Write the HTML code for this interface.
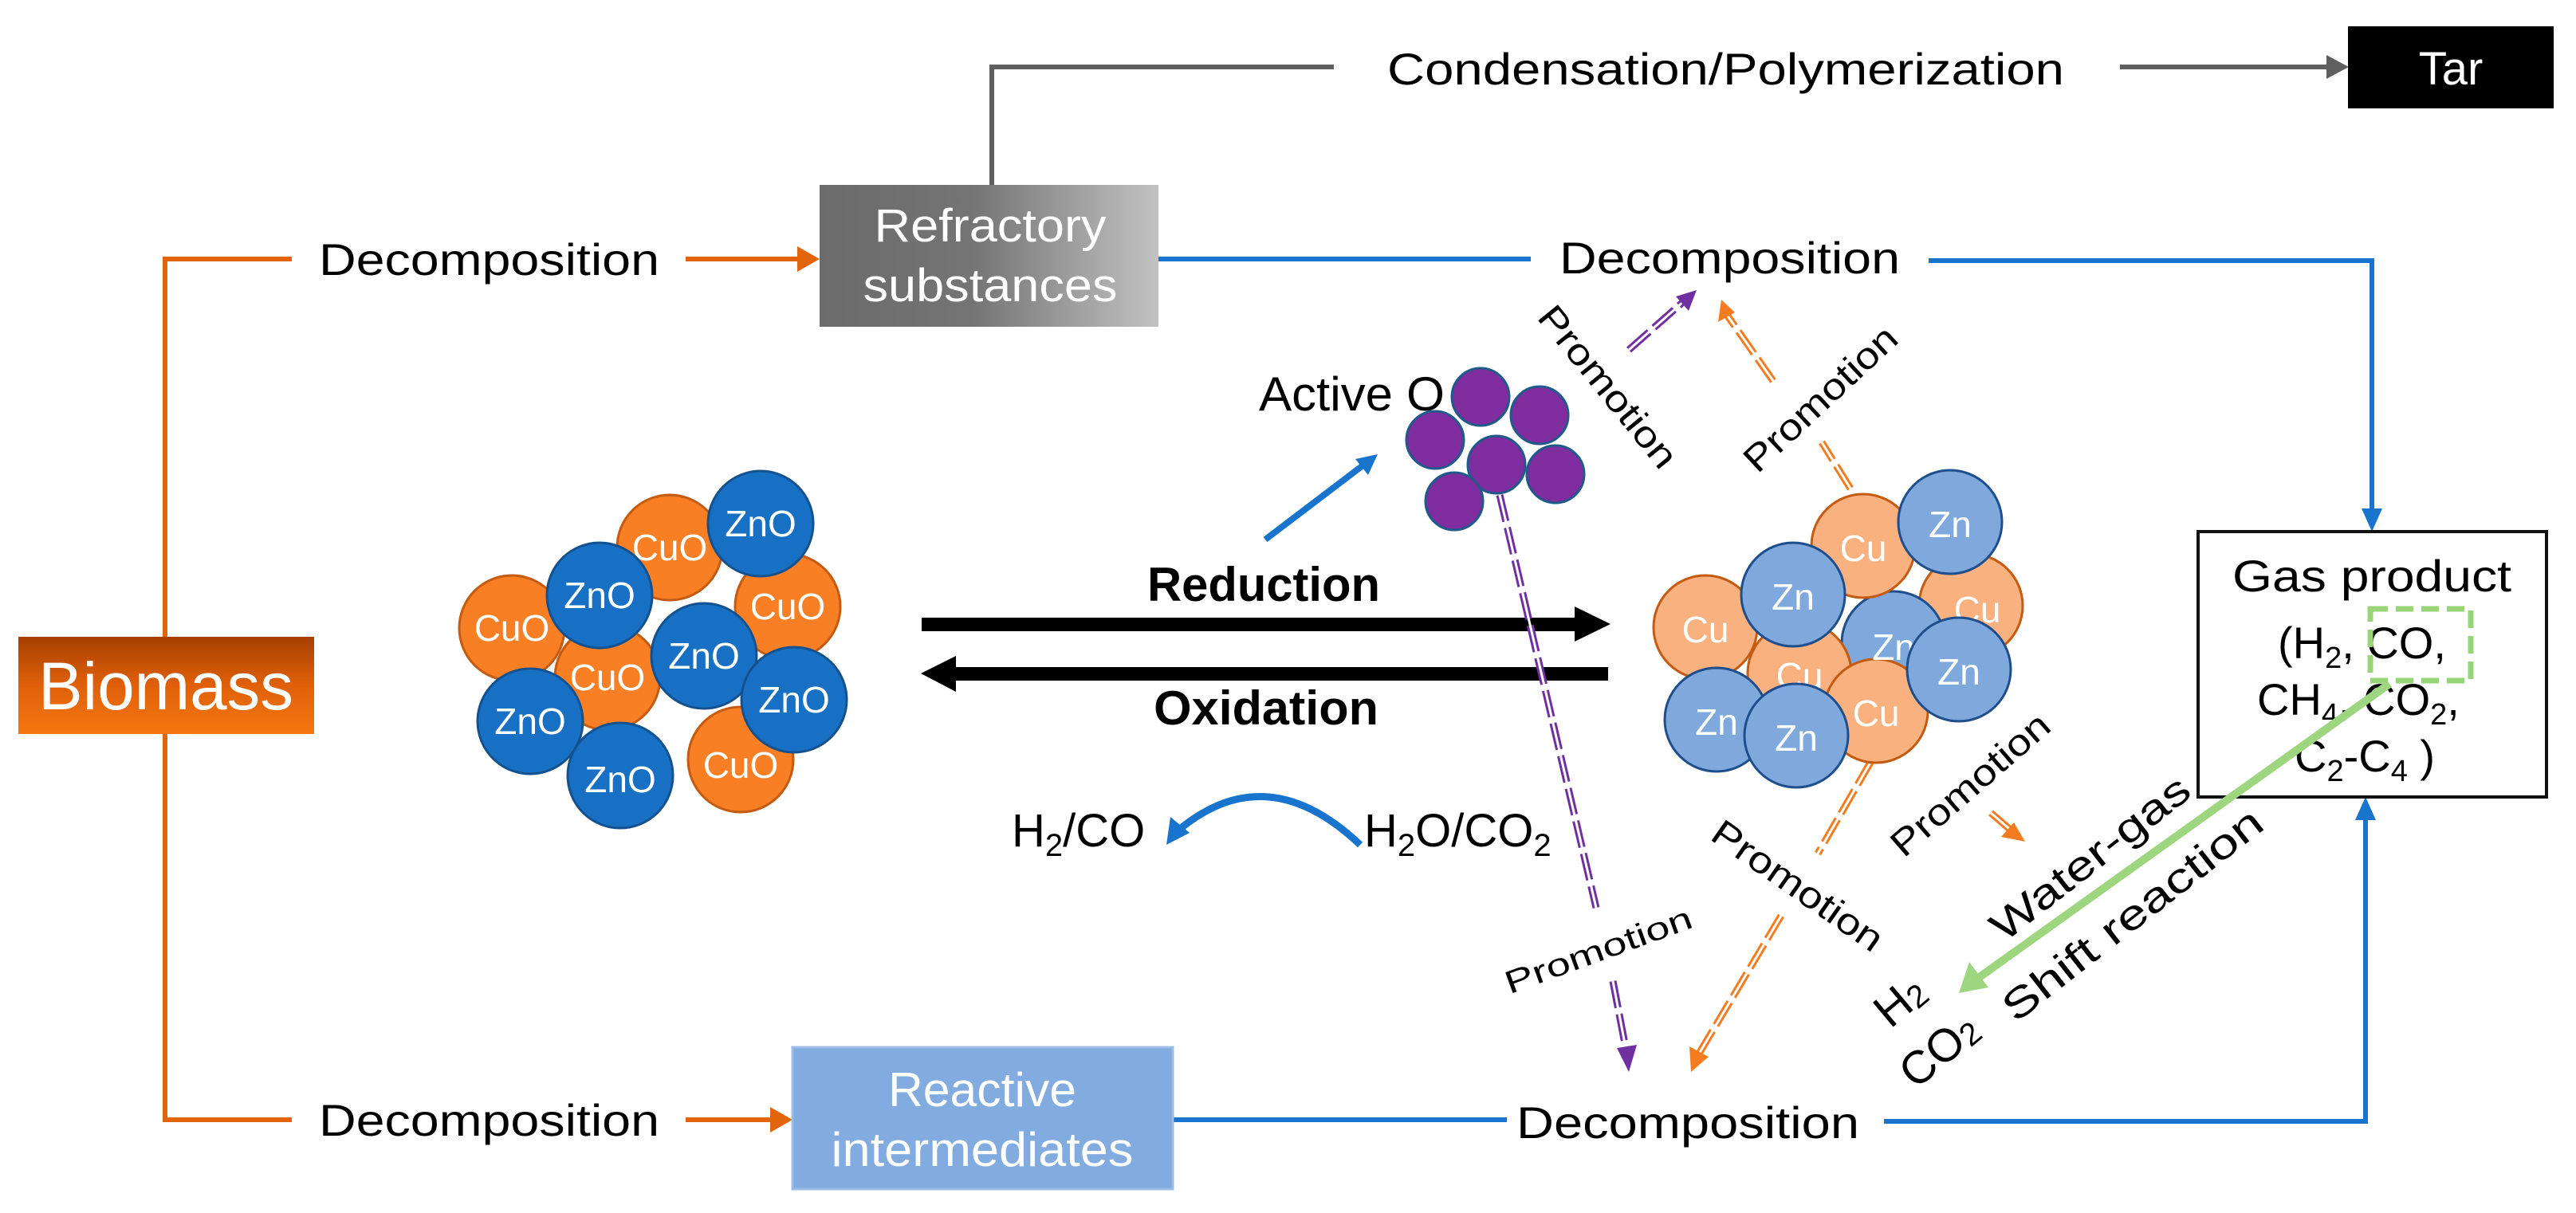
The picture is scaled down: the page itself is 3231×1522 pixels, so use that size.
<!DOCTYPE html>
<html><head><meta charset="utf-8"><style>
html,body{margin:0;padding:0;background:#fff}
svg{display:block}
text{font-family:"Liberation Sans",sans-serif}
</style></head><body>
<svg width="3231" height="1522" viewBox="0 0 3231 1522" xmlns="http://www.w3.org/2000/svg">
<defs>
<linearGradient id="gBio" x1="0" y1="0" x2="0" y2="1"><stop offset="0" stop-color="#a63f00"/><stop offset="0.5" stop-color="#e0600a"/><stop offset="1" stop-color="#f5770f"/></linearGradient>
<linearGradient id="gRef" x1="0" y1="0" x2="1" y2="0"><stop offset="0" stop-color="#6b6b6b"/><stop offset="0.45" stop-color="#747474"/><stop offset="1" stop-color="#c2c2c2"/></linearGradient>
</defs>

<g stroke="#e2640c" stroke-width="6" fill="none">
<path d="M366 325 H207 V1405 H366"/>
<line x1="860" y1="325" x2="1005" y2="325"/>
<line x1="860" y1="1405" x2="970" y2="1405"/>
</g>
<polygon points="1028,325 1000,309 1000,341" fill="#e2640c"/>
<polygon points="994,1405 966,1389 966,1421" fill="#e2640c"/>

<rect x="23" y="799" width="371" height="122" fill="url(#gBio)"/>
<text x="208" y="890" font-size="84" fill="#fff" text-anchor="middle" textLength="320" lengthAdjust="spacingAndGlyphs">Biomass</text>

<g font-size="56" fill="#000">
<text x="400" y="345" textLength="427" lengthAdjust="spacingAndGlyphs">Decomposition</text>
<text x="400" y="1425" textLength="427" lengthAdjust="spacingAndGlyphs">Decomposition</text>
<text x="1956" y="343" textLength="427" lengthAdjust="spacingAndGlyphs">Decomposition</text>
<text x="1902" y="1428" textLength="430" lengthAdjust="spacingAndGlyphs">Decomposition</text>
<text x="1740" y="106" textLength="849" lengthAdjust="spacingAndGlyphs">Condensation/Polymerization</text>
</g>

<path d="M1244 232 V84 H1673" stroke="#5f5f5f" stroke-width="6" fill="none"/>
<rect x="1028" y="232" width="425" height="178" fill="url(#gRef)"/>
<text x="1242" y="303" font-size="58" fill="#fff" text-anchor="middle" textLength="291" lengthAdjust="spacingAndGlyphs">Refractory</text>
<text x="1242" y="378" font-size="58" fill="#fff" text-anchor="middle" textLength="319" lengthAdjust="spacingAndGlyphs">substances</text>

<line x1="2659" y1="84" x2="2920" y2="84" stroke="#5f5f5f" stroke-width="6"/>
<polygon points="2946,84 2918,69 2918,99" fill="#5f5f5f"/>
<rect x="2945" y="33" width="258" height="103" fill="#000"/>
<text x="3074" y="106" font-size="58" fill="#fff" text-anchor="middle">Tar</text>

<g stroke="#1874cd" stroke-width="6" fill="none">
<line x1="1453" y1="325" x2="1920" y2="325"/>
<path d="M2419 327 H2975 V640"/>
<path d="M1471 1405 H1890"/>
<path d="M2363 1407 H2967 V1028"/>
</g>
<polygon points="2975,667 2962,638 2988,638" fill="#1874cd"/>
<polygon points="2967,1000 2954,1029 2980,1029" fill="#1874cd"/>

<rect x="994" y="1314" width="477" height="178" fill="#82abdf" stroke="#9dbde6" stroke-width="3"/>
<text x="1232" y="1388" font-size="60" fill="#fff" text-anchor="middle" textLength="236" lengthAdjust="spacingAndGlyphs">Reactive</text>
<text x="1232" y="1463" font-size="60" fill="#fff" text-anchor="middle" textLength="379" lengthAdjust="spacingAndGlyphs">intermediates</text>

<rect x="2757" y="667" width="437" height="333" fill="#fff" stroke="#111" stroke-width="4"/>
<g font-size="56" fill="#000">
<text x="2800" y="742" textLength="350" lengthAdjust="spacingAndGlyphs">Gas product</text>
<text x="2857" y="826">(H<tspan font-size="38" dy="12">2</tspan><tspan dy="-12">, CO,</tspan></text>
<text x="2831" y="897">CH<tspan font-size="38" dy="12">4</tspan><tspan dy="-12">, CO</tspan><tspan font-size="38" dy="12">2</tspan><tspan dy="-12">,</tspan></text>
<text x="2878" y="968">C<tspan font-size="38" dy="12">2</tspan><tspan dy="-12">-C</tspan><tspan font-size="38" dy="12">4</tspan><tspan dy="-12"> )</tspan></text>
</g>
<rect x="2973" y="764" width="126" height="90" fill="none" stroke="#98d47a" stroke-width="7" stroke-dasharray="22 10"/>

<line x1="2997" y1="858" x2="2480" y2="1228" stroke="#9dd67f" stroke-width="10"/>
<polygon points="2457,1246 2470,1207 2494,1239" fill="#9dd67f"/>
<g font-size="52" fill="#000" text-anchor="middle" dominant-baseline="central">
<text transform="translate(2622,1077) rotate(-38)" textLength="302" lengthAdjust="spacingAndGlyphs">Water-gas</text>
<text transform="translate(2675,1148) rotate(-38)" textLength="399" lengthAdjust="spacingAndGlyphs">Shift reaction</text>
<text transform="translate(2383,1256) rotate(-40)" font-size="58">H<tspan font-size="40" dy="10">2</tspan></text>
<text transform="translate(2432,1318) rotate(-40)" font-size="58">CO<tspan font-size="40" dy="10">2</tspan></text>
</g>

<rect x="1156" y="775" width="822" height="17" fill="#000"/>
<polygon points="2020,783 1975,761 1975,805" fill="#000"/>
<rect x="1197" y="837" width="820" height="17" fill="#000"/>
<polygon points="1155,845 1199,823 1199,868" fill="#000"/>
<text x="1439" y="754" font-size="60" font-weight="bold" textLength="292" lengthAdjust="spacingAndGlyphs">Reduction</text>
<text x="1447" y="909" font-size="60" font-weight="bold" textLength="282" lengthAdjust="spacingAndGlyphs">Oxidation</text>

<g font-size="58" fill="#000">
<text x="1269" y="1062">H<tspan font-size="40" dy="12">2</tspan><tspan dy="-12">/CO</tspan></text>
<text x="1711" y="1062">H<tspan font-size="40" dy="12">2</tspan><tspan dy="-12">O/CO</tspan><tspan font-size="40" dy="12">2</tspan></text>
</g>
<path d="M1706 1060 Q1590 950 1480 1040" stroke="#1874cd" stroke-width="9" fill="none"/>
<polygon points="1463,1060 1468,1025 1492,1045" fill="#1874cd"/>

<line x1="1587" y1="677" x2="1712" y2="582" stroke="#1874cd" stroke-width="8"/>
<polygon points="1728,570 1700,576 1716,596" fill="#1874cd"/>
<text x="1579" y="515" font-size="60" textLength="233" lengthAdjust="spacingAndGlyphs">Active O</text>

<g fill="#7f2c9e" stroke="#1f5a8a" stroke-width="3">
<circle cx="1857" cy="498" r="36"/><circle cx="1931" cy="521" r="36"/><circle cx="1800" cy="552" r="36"/>
<circle cx="1877" cy="583" r="36"/><circle cx="1951" cy="595" r="36"/><circle cx="1824" cy="629" r="36"/>
</g>

<g fill="none">
<g stroke="#7030a0" stroke-width="9" stroke-dasharray="34 8">
<line x1="1881" y1="621" x2="2002" y2="1139"/>
<line x1="2023" y1="1231" x2="2040" y2="1320"/>
<line x1="2043" y1="439" x2="2112" y2="378"/>
</g>
<g stroke="#fff" stroke-width="3">
<line x1="1881" y1="621" x2="2002" y2="1139"/>
<line x1="2023" y1="1231" x2="2040" y2="1320"/>
<line x1="2043" y1="439" x2="2112" y2="378"/>
</g>
<g stroke="#f47c20" stroke-width="9" stroke-dasharray="34 8">
<line x1="2224" y1="478" x2="2166" y2="395"/>
<line x1="2321" y1="613" x2="2285" y2="555"/>
<line x1="2347" y1="955" x2="2280" y2="1071"/>
<line x1="2234" y1="1149" x2="2131" y2="1322"/>
<line x1="2497" y1="1020" x2="2525" y2="1044"/>
</g>
<g stroke="#fff" stroke-width="3">
<line x1="2224" y1="478" x2="2166" y2="395"/>
<line x1="2321" y1="613" x2="2285" y2="555"/>
<line x1="2347" y1="955" x2="2280" y2="1071"/>
<line x1="2234" y1="1149" x2="2131" y2="1322"/>
<line x1="2497" y1="1020" x2="2525" y2="1044"/>
</g>
</g>
<polygon points="2043,1345 2028,1315 2053,1311" fill="#7030a0"/>
<polygon points="2128,364 2102,372 2118,390" fill="#7030a0"/>
<polygon points="2159,376 2155,404 2176,392" fill="#f47c20"/>
<polygon points="2121,1345 2119,1313 2143,1326" fill="#f47c20"/>
<polygon points="2540,1056 2510,1050 2526,1032" fill="#f47c20"/>

<g font-size="46" fill="#000" text-anchor="middle" dominant-baseline="central">
<text transform="translate(2017,485) rotate(51)" textLength="248" lengthAdjust="spacingAndGlyphs">Promotion</text>
<text transform="translate(2283,500) rotate(-43)" textLength="245" lengthAdjust="spacingAndGlyphs">Promotion</text>
<text transform="translate(2005,1193) rotate(-20)" textLength="247" lengthAdjust="spacingAndGlyphs" font-size="40">Promotion</text>
<text transform="translate(2255,1111) rotate(35)" textLength="251" lengthAdjust="spacingAndGlyphs">Promotion</text>
<text transform="translate(2471,984) rotate(-41)" textLength="248" lengthAdjust="spacingAndGlyphs">Promotion</text>
</g>

<g stroke-width="3" font-size="46" text-anchor="middle" dominant-baseline="central">
<g fill="#f97f24" stroke="#c55a11">
<circle cx="642" cy="788" r="66"/><circle cx="840" cy="687" r="66"/><circle cx="988" cy="761" r="66"/>
<circle cx="762" cy="850" r="66"/><circle cx="929" cy="953" r="66"/>
</g>
<g fill="#fff" stroke="none">
<text x="642" y="788">CuO</text><text x="840" y="687">CuO</text><text x="988" y="761">CuO</text>
<text x="762" y="850">CuO</text><text x="929" y="960">CuO</text>
</g>
<g fill="#1870c5" stroke="#14528f">
<circle cx="954" cy="657" r="66"/><circle cx="752" cy="747" r="66"/><circle cx="883" cy="823" r="66"/>
<circle cx="996" cy="878" r="66"/><circle cx="665" cy="905" r="66"/><circle cx="778" cy="973" r="66"/>
</g>
<g fill="#fff" stroke="none">
<text x="954" y="657">ZnO</text><text x="752" y="747">ZnO</text><text x="883" y="823">ZnO</text>
<text x="996" y="878">ZnO</text><text x="665" y="905">ZnO</text><text x="778" y="978">ZnO</text>
</g>
</g>

<g stroke-width="3" font-size="46" text-anchor="middle" dominant-baseline="central">
<g fill="#f9b17f" stroke="#c55a11"><circle cx="2472" cy="760" r="65"/></g>
<g fill="#7fa9dc" stroke="#1f4e8c"><circle cx="2375" cy="807" r="65"/></g>
<g fill="#f9b17f" stroke="#c55a11">
<circle cx="2139" cy="787" r="65"/><circle cx="2337" cy="685" r="65"/><circle cx="2257" cy="845" r="65"/>
<circle cx="2353" cy="892" r="65"/>
</g>
<g fill="#fff" stroke="none">
<text x="2480" y="765">Cu</text><text x="2375" y="812">Zn</text>
<text x="2139" y="790">Cu</text><text x="2337" y="688">Cu</text><text x="2257" y="848">Cu</text><text x="2353" y="895">Cu</text>
</g>
<g fill="#7fa9dc" stroke="#1f4e8c">
<circle cx="2446" cy="655" r="65"/><circle cx="2249" cy="746" r="65"/><circle cx="2457" cy="840" r="65"/>
<circle cx="2153" cy="903" r="65"/><circle cx="2253" cy="923" r="65"/>
</g>
<g fill="#fff" stroke="none">
<text x="2446" y="658">Zn</text><text x="2249" y="749">Zn</text><text x="2457" y="843">Zn</text>
<text x="2153" y="906">Zn</text><text x="2253" y="926">Zn</text>
</g>
</g>
</svg>
</body></html>
